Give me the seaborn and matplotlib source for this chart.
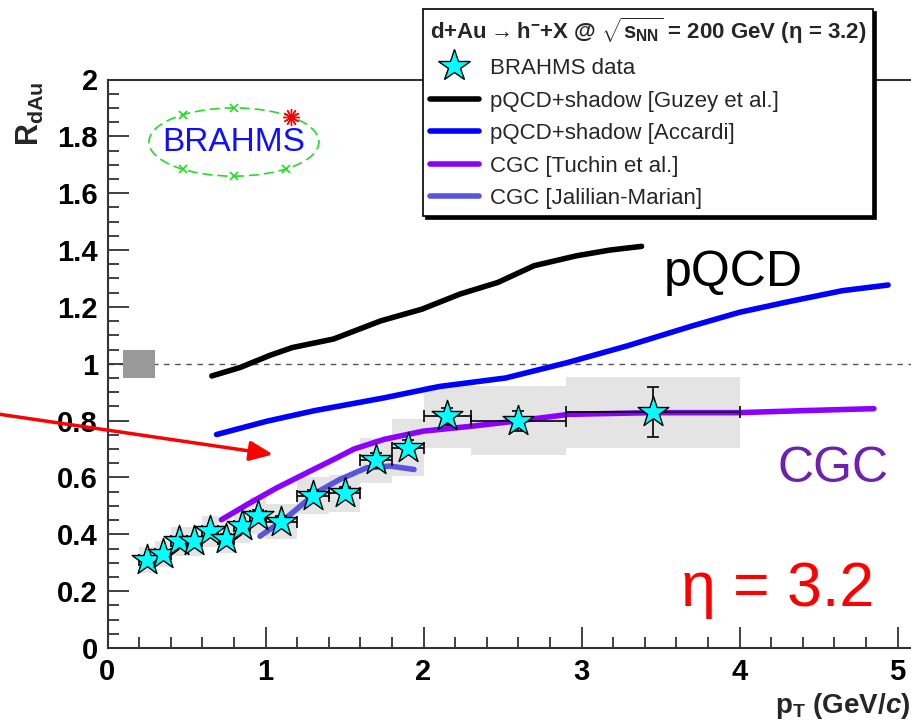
import matplotlib
matplotlib.use('Agg')
import matplotlib.pyplot as plt
import numpy as np
import seaborn as sns
import pandas as pd
from matplotlib.patches import Ellipse, Rectangle
from matplotlib.ticker import MultipleLocator
from matplotlib.lines import Line2D

# BRAHMS h- R_dAu at eta = 3.2
pt = [0.25, 0.35, 0.45, 0.55, 0.65, 0.75, 0.85, 0.95, 1.1, 1.3, 1.5, 1.7, 1.9, 2.15, 2.6, 3.45]
rdau = [0.31, 0.33, 0.375, 0.375, 0.41, 0.385, 0.43, 0.465, 0.445, 0.535, 0.545, 0.66, 0.705, 0.815, 0.80, 0.83]
pt_err = [0.05, 0.05, 0.05, 0.05, 0.05, 0.05, 0.05, 0.05, 0.1, 0.1, 0.1, 0.1, 0.1, 0.15, 0.3, 0.55]
stat_err = [0.015, 0.015, 0.015, 0.015, 0.015, 0.015, 0.015, 0.02, 0.02, 0.02, 0.02, 0.025, 0.025, 0.03, 0.035, 0.088]
sys_err = [0.045, 0.045, 0.05, 0.05, 0.055, 0.05, 0.06, 0.065, 0.06, 0.065, 0.065, 0.08, 0.10, 0.11, 0.12, 0.125]

# model curves
guzey_pt = [0.66, 0.84, 1.03, 1.17, 1.43, 1.73, 1.99, 2.23, 2.47, 2.70, 2.97, 3.18, 3.38]
guzey_r = [0.957, 0.987, 1.03, 1.057, 1.087, 1.151, 1.192, 1.245, 1.286, 1.345, 1.380, 1.40, 1.413]
accardi_pt = [0.69, 1.01, 1.31, 1.75, 2.10, 2.52, 2.91, 3.29, 3.70, 4.00, 4.29, 4.65, 4.94]
accardi_r = [0.751, 0.798, 0.835, 0.88, 0.92, 0.95, 1.004, 1.063, 1.133, 1.181, 1.216, 1.257, 1.277]
tuchin_pt = [0.72, 0.90, 1.07, 1.26, 1.43, 1.56, 1.75, 2.0, 2.3, 2.58, 2.92, 3.44, 4.0, 4.4, 4.85]
tuchin_r = [0.451, 0.51, 0.563, 0.616, 0.663, 0.70, 0.734, 0.763, 0.78, 0.798, 0.822, 0.828, 0.828, 0.835, 0.842]
jalilian_pt = [0.965, 1.13, 1.32, 1.47, 1.64, 1.79, 1.94]
jalilian_r = [0.393, 0.457, 0.546, 0.593, 0.634, 0.64, 0.628]

legend_labels = ['BRAHMS data', 'pQCD+shadow [Guzey et al.]', 'pQCD+shadow [Accardi]',
                 'CGC [Tuchin et al.]', 'CGC [Jalilian-Marian]']
legend_title = r'd+Au$\rightarrow$h$^{-}$+X @ $\sqrt{\mathbf{s}_{\mathbf{NN}}}$ = 200 GeV (η = 3.2)'

sns.set_style('ticks')
plt.rcParams['font.family'] = ['Liberation Sans', 'DejaVu Sans']
plt.rcParams['mathtext.fontset'] = 'custom'
plt.rcParams['mathtext.rm'] = 'Liberation Sans:bold'
plt.rcParams['mathtext.bf'] = 'Liberation Sans:bold'
plt.rcParams['mathtext.it'] = 'Liberation Sans:italic:bold'

fig = plt.figure(figsize=(9.11, 7.24), dpi=100)
ax = fig.add_axes([107.5 / 911, 76 / 724, 1 - 107.5 / 911, 568.5 / 724])
ax.set_xlim(0, 5.085)
ax.set_ylim(0, 2)

# systematic boxes
for x, y, xe, se in zip(pt, rdau, pt_err, sys_err):
    ax.add_patch(Rectangle((x - xe, y - se), 2 * xe, 2 * se, facecolor='#e4e4e4', edgecolor='none', zorder=1))

ax.axhline(1, color='#555555', ls=(0, (4, 4)), lw=1, zorder=0.5)
ax.add_patch(Rectangle((0.1, 0.95), 0.2, 0.1, facecolor='#999999', edgecolor='none', zorder=1))

curves = [(guzey_pt, guzey_r, 'black'), (accardi_pt, accardi_r, '#0000ff'),
          (tuchin_pt, tuchin_r, '#8c00ff'), (jalilian_pt, jalilian_r, '#5a55dd')]
for xs, ys, col in curves:
    df = pd.DataFrame({'pt': xs, 'r': ys})
    sns.lineplot(data=df, x='pt', y='r', color=col, lw=4, sort=False, estimator=None, ax=ax, zorder=3)

ax.errorbar(pt, rdau, xerr=pt_err, yerr=stat_err, fmt='none', ecolor='black',
            elinewidth=1.2, capsize=4, capthick=1.2, zorder=4)
sns.scatterplot(x=pt, y=rdau, marker='*', s=540, color='cyan', edgecolor='black',
                linewidth=1, zorder=5, ax=ax)

# BRAHMS logo
logo_cx, logo_cy, logo_w, logo_h = 0.80, 1.78, 1.076, 0.24
ax.add_patch(Ellipse((logo_cx, logo_cy), logo_w, logo_h, fill=False, edgecolor='#22dd22',
                     ls=(0, (6, 3)), lw=1.2, zorder=2))
cross_ang = np.radians([90, 127, 233, 270, 308])
ax.plot(logo_cx + logo_w / 2 * np.cos(cross_ang), logo_cy + logo_h / 2 * np.sin(cross_ang),
        'x', color='#22dd22', ms=6, mew=1.2, zorder=2)
red_ang = np.radians(48)
ax.plot([logo_cx + logo_w / 2 * np.cos(red_ang)], [logo_cy + logo_h / 2 * np.sin(red_ang)],
        marker=(12, 2, 0), color='red', ms=12, mew=1, zorder=2)
ax.text(logo_cx, logo_cy, 'BRAHMS', color='#1010ff', fontsize=24, ha='center', va='center')

# annotations
ax.text(3.96, 1.32, 'pQCD', fontsize=36, ha='center', va='center', color='black')
ax.text(4.59, 0.63, 'CGC', fontsize=36, ha='center', va='center', color='#7020b0')
ax.text(4.24, 0.205, 'η = 3.2', fontsize=45, ha='center', va='center', color='red')
ax.annotate('', xy=(1.047, 0.681), xytext=(-0.68, 0.822), annotation_clip=False,
            arrowprops=dict(arrowstyle='-|>,head_length=0.7,head_width=0.3', color='red',
                            lw=2.5, shrinkA=0, shrinkB=0, mutation_scale=20))

# axes styling
ax.xaxis.set_major_locator(MultipleLocator(1))
ax.xaxis.set_minor_locator(MultipleLocator(0.2))
ax.yaxis.set_major_locator(MultipleLocator(0.2))
ax.yaxis.set_minor_locator(MultipleLocator(0.05))
ax.set_yticklabels([f'{v:g}' for v in ax.get_yticks()])
ax.tick_params(which='both', direction='in', top=False, right=False, colors='#333333',
               labelcolor='black', labelsize=21, pad=7)
ax.tick_params(which='major', length=15, width=1.3)
ax.tick_params(which='minor', length=8, width=1.3)
for lab in ax.get_xticklabels() + ax.get_yticklabels():
    lab.set_fontweight('bold')
for s in ['left', 'bottom', 'top']:
    ax.spines[s].set_color('#333333')
    ax.spines[s].set_linewidth(1.5)
ax.spines['right'].set_visible(False)
ax.set_xlabel('')
ax.set_ylabel('')

fig.text(30 / 911, 1 - 114 / 724, r'R$_{\mathbf{dAu}}$', rotation=90, fontsize=22,
         fontweight='bold', ha='center', va='center')
fig.text(910 / 911, 1 - 706 / 724, r'p$_{\mathbf{T}}$ (GeV/$c$)', fontsize=20,
         fontweight='bold', ha='right', va='center')

# legend
handles = [Line2D([], [], ls='none', marker='*', ms=24, mfc='cyan', mec='black', mew=1)]
handles += [Line2D([], [], color=c, lw=4) for _, _, c in curves]
leg = fig.legend(handles, legend_labels, title=legend_title, loc='upper left',
                 bbox_to_anchor=(423 / 911, 1 - 9 / 724), borderaxespad=0, fontsize=16,
                 title_fontproperties={'weight': 'bold', 'size': 16}, alignment='left',
                 frameon=True, fancybox=False, edgecolor='black', framealpha=1,
                 shadow={'color': 'black', 'alpha': 1}, handlelength=2.2, handletextpad=0.5,
                 labelspacing=0.52, borderpad=0.3)
leg.get_frame().set_linewidth(1.2)

fig.savefig('out.png', dpi=100)
